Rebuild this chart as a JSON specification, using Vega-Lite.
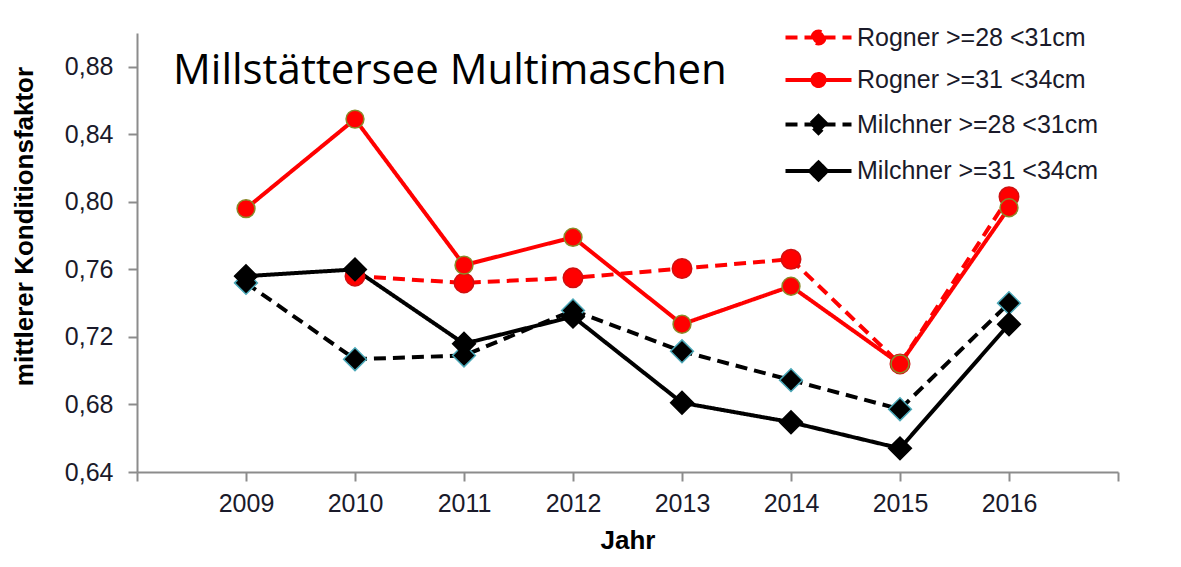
{
  "$schema": "https://vega.github.io/schema/vega-lite/v6.json",
  "width": 981,
  "height": 439,
  "autosize": "none",
  "padding": {"left": 137, "top": 33, "right": 63, "bottom": 95},
  "background": "white",
  "title": {
    "text": "Millstättersee Multimaschen",
    "orient": "top",
    "anchor": "start",
    "frame": "group",
    "font": "Open Sans",
    "fontSize": 42,
    "fontWeight": "normal",
    "color": "#000000",
    "baseline": "alphabetic",
    "offset": 0,
    "dx": 36,
    "dy": 101
  },
  "config": {
    "view": {"stroke": null},
    "axis": {
      "grid": false,
      "domainColor": "#8c8c8c",
      "domainWidth": 2,
      "tickColor": "#8c8c8c",
      "tickWidth": 2,
      "tickSize": 9,
      "labelFont": "Liberation Sans",
      "labelFontSize": 25,
      "labelColor": "#1a1a2a",
      "titleFont": "Liberation Sans",
      "titleFontSize": 26,
      "titleFontWeight": "bold",
      "titleColor": "#000000"
    }
  },
  "data": {
    "values": [
      {"year": 2010, "value": 0.756, "series": "Rogner >=28 <31cm"},
      {"year": 2011, "value": 0.752, "series": "Rogner >=28 <31cm"},
      {"year": 2012, "value": 0.755, "series": "Rogner >=28 <31cm"},
      {"year": 2013, "value": 0.7605, "series": "Rogner >=28 <31cm"},
      {"year": 2014, "value": 0.766, "series": "Rogner >=28 <31cm"},
      {"year": 2015, "value": 0.704, "series": "Rogner >=28 <31cm"},
      {"year": 2016, "value": 0.803, "series": "Rogner >=28 <31cm"},
      {"year": 2009, "value": 0.796, "series": "Rogner >=31 <34cm"},
      {"year": 2010, "value": 0.849, "series": "Rogner >=31 <34cm"},
      {"year": 2011, "value": 0.7625, "series": "Rogner >=31 <34cm"},
      {"year": 2012, "value": 0.779, "series": "Rogner >=31 <34cm"},
      {"year": 2013, "value": 0.7275, "series": "Rogner >=31 <34cm"},
      {"year": 2014, "value": 0.750, "series": "Rogner >=31 <34cm"},
      {"year": 2015, "value": 0.704, "series": "Rogner >=31 <34cm"},
      {"year": 2016, "value": 0.7965, "series": "Rogner >=31 <34cm"},
      {"year": 2009, "value": 0.752, "series": "Milchner >=28 <31cm"},
      {"year": 2010, "value": 0.7068, "series": "Milchner >=28 <31cm"},
      {"year": 2011, "value": 0.709, "series": "Milchner >=28 <31cm"},
      {"year": 2012, "value": 0.7357, "series": "Milchner >=28 <31cm"},
      {"year": 2013, "value": 0.7115, "series": "Milchner >=28 <31cm"},
      {"year": 2014, "value": 0.6944, "series": "Milchner >=28 <31cm"},
      {"year": 2015, "value": 0.6772, "series": "Milchner >=28 <31cm"},
      {"year": 2016, "value": 0.740, "series": "Milchner >=28 <31cm"},
      {"year": 2009, "value": 0.756, "series": "Milchner >=31 <34cm"},
      {"year": 2010, "value": 0.760, "series": "Milchner >=31 <34cm"},
      {"year": 2011, "value": 0.716, "series": "Milchner >=31 <34cm"},
      {"year": 2012, "value": 0.732, "series": "Milchner >=31 <34cm"},
      {"year": 2013, "value": 0.681, "series": "Milchner >=31 <34cm"},
      {"year": 2014, "value": 0.6695, "series": "Milchner >=31 <34cm"},
      {"year": 2015, "value": 0.654, "series": "Milchner >=31 <34cm"},
      {"year": 2016, "value": 0.7275, "series": "Milchner >=31 <34cm"}
    ]
  },
  "encoding": {
    "x": {
      "field": "year",
      "type": "quantitative",
      "scale": {"domain": [2008, 2017], "nice": false, "zero": false},
      "axis": {
        "title": "Jahr",
        "values": [2008, 2009, 2010, 2011, 2012, 2013, 2014, 2015, 2016, 2017],
        "labelExpr": "datum.value == 2008 || datum.value == 2017 ? '' : format(datum.value, 'd')",
        "labelPadding": 10,
        "titlePadding": 11,
        "labelFlush": false,
        "labelOverlap": false
      }
    },
    "y": {
      "field": "value",
      "type": "quantitative",
      "scale": {"domain": [0.64, 0.90], "nice": false, "zero": false},
      "axis": {
        "title": "mittlerer Konditionsfaktor",
        "values": [0.64, 0.68, 0.72, 0.76, 0.80, 0.84, 0.88],
        "labelExpr": "replace(format(datum.value, '.2f'), '.', ',')",
        "labelPadding": 15,
        "titleAngle": -90,
        "titleX": -113,
        "titleY": 193,
        "titleAlign": "center",
        "titleBaseline": "middle",
        "labelFlush": false,
        "labelOverlap": false
      }
    }
  },
  "layer": [
    {
      "mark": {"type": "line", "strokeWidth": 4, "strokeCap": "butt"},
      "encoding": {
        "color": {
          "field": "series",
          "type": "nominal",
          "scale": {
            "domain": ["Rogner >=28 <31cm", "Rogner >=31 <34cm", "Milchner >=28 <31cm", "Milchner >=31 <34cm"],
            "range": ["#ff0000", "#ff0000", "#000000", "#000000"]
          },
          "legend": {
            "title": null,
            "orient": "none",
            "legendX": 669,
            "legendY": -8,
            "symbolType": "M-3.3,0L3.3,0",
            "symbolSize": 400,
            "symbolStrokeWidth": 4,
            "labelOffset": 26,
            "rowPadding": 13.5,
            "labelFont": "Liberation Sans",
            "labelFontSize": 25,
            "labelColor": "#1a1a2a",
            "labelLimit": 400,
            "encode": {
              "symbols": {
                "update": {
                  "shape": {"signal": "indexof(datum.value, 'Rogner') >= 0 ? 'M-3.3,0L3.3,0M0.6,0A0.6,0.6 0 1 1 -0.6,0A0.6,0.6 0 1 1 0.6,0Z' : 'M-3.3,0L3.3,0M0,-0.85L0.85,0L0,0.85L-0.85,0Z'"},
                  "fill": {"signal": "indexof(datum.value, 'Rogner') >= 0 ? '#ff0000' : '#000000'"},
                  "stroke": {"signal": "indexof(datum.value, 'Rogner') >= 0 ? '#ff0000' : '#000000'"},
                  "strokeDash": {"signal": "indexof(datum.value, '28') >= 0 ? [13, 6] : [1, 0]"},
                  "strokeWidth": {"value": 4},
                  "opacity": {"value": 1}
                }
              }
            }
          }
        },
        "strokeDash": {
          "field": "series",
          "type": "nominal",
          "scale": {
            "domain": ["Rogner >=28 <31cm", "Rogner >=31 <34cm", "Milchner >=28 <31cm", "Milchner >=31 <34cm"],
            "range": [[12, 7], [1, 0], [12, 7], [1, 0]]
          },
          "legend": null
        }
      }
    },
    {
      "transform": [{"filter": "datum.series == 'Rogner >=28 <31cm'"}],
      "mark": {"type": "point", "shape": "circle", "filled": true, "fill": "#ff0000", "stroke": "#d01010", "strokeWidth": 1.5, "opacity": 1, "size": 380}
    },
    {
      "transform": [{"filter": "datum.series == 'Rogner >=31 <34cm'"}],
      "mark": {"type": "point", "shape": "circle", "filled": true, "fill": "#ff0000", "stroke": "#8a8a2a", "strokeWidth": 1.5, "opacity": 1, "size": 320}
    },
    {
      "transform": [{"filter": "datum.series == 'Milchner >=28 <31cm'"}],
      "mark": {"type": "point", "shape": "diamond", "filled": true, "fill": "#000000", "stroke": "#4aa8b8", "strokeWidth": 1.5, "opacity": 1, "size": 520}
    },
    {
      "transform": [{"filter": "datum.series == 'Milchner >=31 <34cm'"}],
      "mark": {"type": "point", "shape": "diamond", "filled": true, "fill": "#000000", "stroke": "#000000", "strokeWidth": 1.5, "opacity": 1, "size": 520}
    }
  ]
}
